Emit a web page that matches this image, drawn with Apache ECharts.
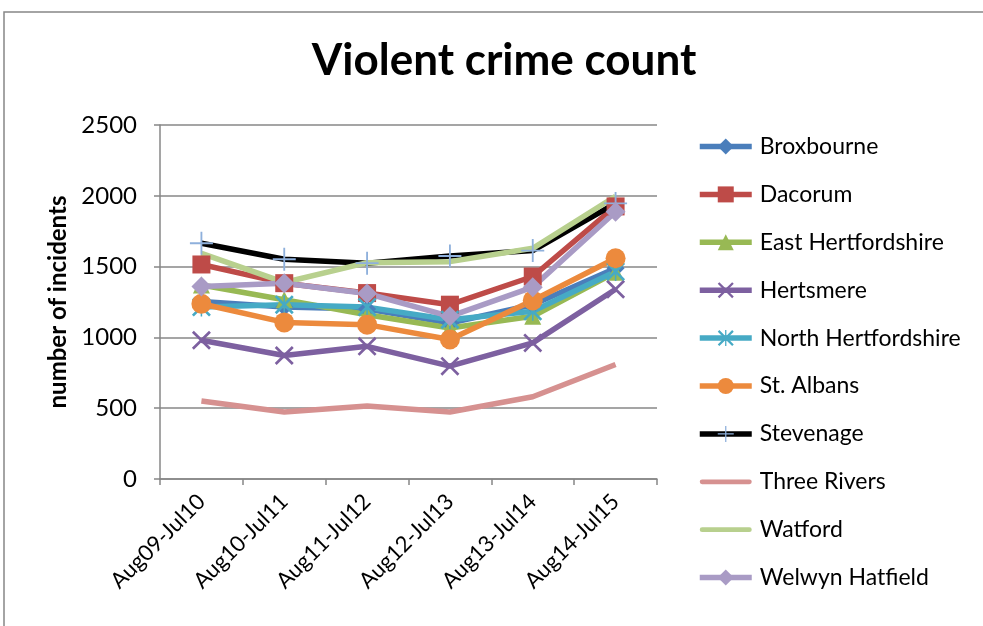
<!DOCTYPE html>
<html>
<head>
<meta charset="utf-8">
<script src="https://cdn.jsdelivr.net/npm/echarts@6/dist/echarts.min.js"></script>
<style>
  html, body { margin: 0; padding: 0; background: #fff; }
  #chart { width: 983px; height: 626px; }
</style>
</head>
<body>
<div id="chart"></div>
<script>
// categories
var periods = ['Aug09-Jul10', 'Aug10-Jul11', 'Aug11-Jul12', 'Aug12-Jul13', 'Aug13-Jul14', 'Aug14-Jul15']
var yTicks = [0, 500, 1000, 1500, 2000, 2500]

// series values
var broxbourne = [1254, 1214, 1200, 1102, 1231, 1489]
var dacorum = [1515, 1383, 1313, 1231, 1430, 1925]
var eastHerts = [1370, 1266, 1160, 1067, 1149, 1460]
var hertsmere = [980, 872, 937, 797, 961, 1340]
var northHerts = [1214, 1231, 1214, 1125, 1184, 1465]
var stAlbans = [1238, 1106, 1090, 985, 1261, 1559]
var stevenage = [1665, 1552, 1524, 1575, 1613, 1946]
var threeRivers = [551, 473, 516, 473, 581, 809]
var watford = [1594, 1388, 1528, 1535, 1629, 1997]
var welwyn = [1359, 1383, 1310, 1149, 1355, 1887]

var font = 'Lato, "Open Sans", sans-serif'
var gridGray = '#878787'

// 标记形状
var xMark = 'path://M0,1 L1,0 L5,4 L9,0 L10,1 L6,5 L10,9 L9,10 L5,6 L1,10 L0,9 L4,5 Z'
var starMark = 'path://M0,1 L1,0 L5,4 L9,0 L10,1 L6,5 L10,9 L9,10 L5,6 L1,10 L0,9 L4,5 Z M4.6,0 L5.4,0 L5.4,10 L4.6,10 Z'
var plusMark = 'path://M4.6,0 L5.4,0 L5.4,4.6 L10,4.6 L10,5.4 L5.4,5.4 L5.4,10 L4.6,10 L4.6,5.4 L0,5.4 L0,4.6 L4.6,4.6 Z'
// 无标记的图例：只画一条粗线
var barIcon = 'path://M0,0 L0.01,0 L0.01,0.01 Z M1,7.5 L51,7.5 A2.5,2.5 0 0 1 51,12.5 L1,12.5 A2.5,2.5 0 0 1 1,7.5 Z M52,20 L51.99,20 L51.99,19.99 Z'

function line (name, data, color, symbol, size, markColor) {
  return {
    name: name,
    type: 'line',
    data: data,
    symbol: symbol || 'none',
    symbolSize: size || 0,
    showSymbol: !!symbol,
    lineStyle: { color: color, width: 5.5 },
    itemStyle: { color: markColor || color },
    emphasis: { disabled: true }
  }
}

var mychart = echarts.init(document.getElementById('chart'))

var option = {
  animation: false,
  title: {
    text: 'Violent crime count',
    left: 499,
    textAlign: 'center',
    top: 34,
    textStyle: { fontFamily: font, fontSize: 44, fontWeight: 'bold', color: '#000' }
  },
  graphic: [{
    type: 'rect',
    shape: { x: 4, y: 12, width: 1100, height: 700 },
    style: { fill: 'none', stroke: gridGray, lineWidth: 1.5 },
    silent: true
  }],
  legend: {
    orient: 'vertical',
    left: 692,
    top: 130,
    itemWidth: 52,
    itemHeight: 20,
    itemGap: 24.9,
    lineStyle: { width: 5.5 },
    textStyle: { fontFamily: font, fontSize: 23, color: '#000', padding: [0, 0, 0, 3] },
    data: ['Broxbourne', 'Dacorum', 'East Hertfordshire', 'Hertsmere', 'North Hertfordshire',
      'St. Albans', 'Stevenage',
      { name: 'Three Rivers', icon: barIcon, itemStyle: { color: '#d69190' } },
      { name: 'Watford', icon: barIcon, itemStyle: { color: '#b8d08e' } },
      'Welwyn Hatfield']
  },
  grid: { left: 160, right: 326, top: 125, bottom: 147 },
  xAxis: {
    type: 'category',
    data: periods,
    axisLine: { lineStyle: { color: gridGray, width: 1.5 } },
    axisTick: { show: true, length: 6, lineStyle: { color: gridGray, width: 1.5 } },
    axisLabel: { rotate: 45, margin: 19, color: '#000', fontFamily: font, fontSize: 22, interval: 0 }
  },
  yAxis: {
    type: 'value',
    min: yTicks[0],
    max: yTicks[yTicks.length - 1],
    interval: 500,
    name: 'number of incidents',
    nameLocation: 'middle',
    nameRotate: 90,
    nameGap: 86,
    nameTextStyle: { fontFamily: font, fontSize: 24, fontWeight: 'bold', color: '#000' },
    axisLine: { show: true, lineStyle: { color: gridGray, width: 1.5 } },
    axisTick: { show: true, length: 6, lineStyle: { color: gridGray, width: 1.5 } },
    axisLabel: {
      margin: 23,
      color: '#000',
      fontFamily: font,
      fontSize: 24,
      formatter: function (v) { return String(v) }
    },
    splitLine: { lineStyle: { color: gridGray, width: 1.5 } }
  },
  series: [
    line('Broxbourne', broxbourne, '#4a7ebb', 'diamond', 18),
    line('Dacorum', dacorum, '#be4b48', 'rect', 18),
    line('East Hertfordshire', eastHerts, '#98b954', 'triangle', 17),
    line('Hertsmere', hertsmere, '#7d60a0', xMark, 19),
    line('North Hertfordshire', northHerts, '#46aac5', starMark, 19),
    line('St. Albans', stAlbans, '#ec8a3d', 'circle', 20),
    line('Stevenage', stevenage, '#000000', plusMark, 23, '#8eb0dc'),
    line('Three Rivers', threeRivers, '#d69190'),
    line('Watford', watford, '#b8d08e'),
    line('Welwyn Hatfield', welwyn, '#a99bc5', 'diamond', 20)
  ]
}

mychart.setOption(option)
</script>
</body>
</html>
